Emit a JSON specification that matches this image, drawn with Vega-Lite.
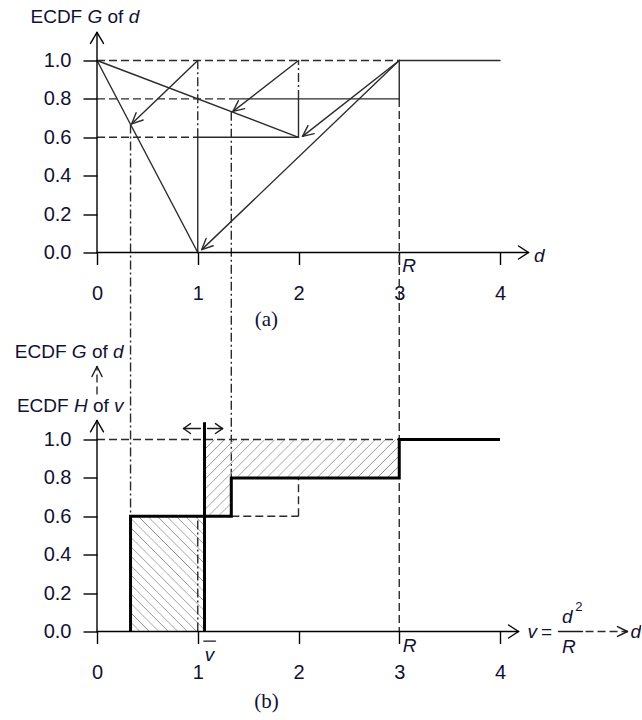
{
  "$schema": "https://vega.github.io/schema/vega-lite/v6.json",
  "background": "white",
  "padding": {"left": 14, "top": 7.5, "right": 0, "bottom": 3},
  "bounds": "flush",
  "spacing": 187,
  "config": {"view": {"stroke": null}},
  "datasets": {
    "top_solid": [
      {"x": 0, "y": 1, "x2": 1, "y2": 0},
      {"x": 0, "y": 1, "x2": 2, "y2": 0.6},
      {"x": 1, "y": 0, "x2": 1, "y2": 0.6},
      {"x": 1, "y": 0.6, "x2": 2, "y2": 0.6},
      {"x": 2, "y": 0.6, "x2": 2, "y2": 0.8},
      {"x": 1.333, "y": 0.8, "x2": 3, "y2": 0.8},
      {"x": 3, "y": 0.8, "x2": 3, "y2": 1},
      {"x": 3, "y": 1, "x2": 4, "y2": 1},
      {"x": 1, "y": 1, "x2": 0.345, "y2": 0.67},
      {"x": 2, "y": 1, "x2": 1.35, "y2": 0.735},
      {"x": 3, "y": 1, "x2": 2.04, "y2": 0.605},
      {"x": 3, "y": 1, "x2": 1.04, "y2": 0.015},
      {"x": 0.345, "y": 0.67, "x2": 0.458, "y2": 0.69},
      {"x": 0.345, "y": 0.67, "x2": 0.388, "y2": 0.728},
      {"x": 1.35, "y": 0.735, "x2": 1.466, "y2": 0.749},
      {"x": 1.35, "y": 0.735, "x2": 1.404, "y2": 0.791},
      {"x": 2.04, "y": 0.605, "x2": 2.156, "y2": 0.619},
      {"x": 2.04, "y": 0.605, "x2": 2.094, "y2": 0.661},
      {"x": 1.04, "y": 0.015, "x2": 1.153, "y2": 0.035},
      {"x": 1.04, "y": 0.015, "x2": 1.083, "y2": 0.073}
    ],
    "top_dashed": [
      {"x": 0, "y": 1, "x2": 3, "y2": 1},
      {"x": 0, "y": 0.8, "x2": 1.333, "y2": 0.8},
      {"x": 0, "y": 0.6, "x2": 1, "y2": 0.6},
      {"x": 3, "y": 0.8, "x2": 3, "y2": -1.974}
    ],
    "top_dashdot": [
      {"x": 1, "y": 0.6, "x2": 1, "y2": 1},
      {"x": 2, "y": 0.8, "x2": 2, "y2": 1},
      {"x": 0.333, "y": 0.667, "x2": 0.333, "y2": -1.375},
      {"x": 1.333, "y": 0.733, "x2": 1.333, "y2": -1.174}
    ],
    "top_axes": [
      {"x": 0, "y": 0, "x2": 4.283, "y2": 0},
      {"x": 4.283, "y": 0, "x2": 4.184, "y2": 0.034},
      {"x": 4.283, "y": 0, "x2": 4.184, "y2": -0.034},
      {"x": 0, "y": 0, "x2": 0, "y2": 1.146},
      {"x": 0, "y": 1.146, "x2": -0.0645, "y2": 1.089},
      {"x": 0, "y": 1.146, "x2": 0.0645, "y2": 1.089}
    ],
    "top_text_upright": [
      {"x": -0.4035, "y": 1.229, "t": "ECDF"},
      {"x": 0.1833, "y": 1.229, "t": "of"}
    ],
    "top_text_italic": [
      {"x": -0.0211, "y": 1.229, "t": "G"},
      {"x": 0.3667, "y": 1.229, "t": "d"},
      {"x": 3.097, "y": -0.068, "t": "R"},
      {"x": 4.3896, "y": -0.016, "t": "d"}
    ],
    "top_caption": [{"x": 1.682, "y": -0.354, "t": "(a)"}],
    "b_area_a": [{"x": 0.333, "x2": 1.067, "y": 0, "y2": 0.6}],
    "b_area_b": [
      {"x": 1.067, "y": 1, "y2": 0.6},
      {"x": 1.333, "y": 1, "y2": 0.8},
      {"x": 3, "y": 1, "y2": 0.8}
    ],
    "b_dashed": [
      {"x": 0, "y": 1, "x2": 3, "y2": 1},
      {"x": 1.333, "y": 0.6, "x2": 2, "y2": 0.6},
      {"x": 2, "y": 0.6, "x2": 2, "y2": 0.8},
      {"x": 4.849, "y": 0, "x2": 5.265, "y2": 0},
      {"x": 0, "y": 1.234, "x2": 0, "y2": 1.38}
    ],
    "b_dashdot": [{"x": 1, "y": 0, "x2": 1, "y2": 0.6}],
    "b_thin": [
      {"x": 1.027, "y": 1.057, "x2": 0.859, "y2": 1.057},
      {"x": 0.859, "y": 1.057, "x2": 0.928, "y2": 1.083},
      {"x": 0.859, "y": 1.057, "x2": 0.928, "y2": 1.031},
      {"x": 1.097, "y": 1.057, "x2": 1.246, "y2": 1.057},
      {"x": 1.246, "y": 1.057, "x2": 1.176, "y2": 1.083},
      {"x": 1.246, "y": 1.057, "x2": 1.176, "y2": 1.031},
      {"x": 4.581, "y": 0, "x2": 4.819, "y2": 0},
      {"x": 1.06, "y": -0.05, "x2": 1.176, "y2": -0.05},
      {"x": 5.265, "y": 0, "x2": 5.166, "y2": 0.026},
      {"x": 5.265, "y": 0, "x2": 5.166, "y2": -0.026},
      {"x": 0, "y": 1.38, "x2": -0.05, "y2": 1.328},
      {"x": 0, "y": 1.38, "x2": 0.05, "y2": 1.328}
    ],
    "b_axes": [
      {"x": 0, "y": 0, "x2": 4.184, "y2": 0},
      {"x": 4.184, "y": 0, "x2": 4.085, "y2": 0.034},
      {"x": 4.184, "y": 0, "x2": 4.085, "y2": -0.034},
      {"x": 0, "y": 0, "x2": 0, "y2": 1.099},
      {"x": 0, "y": 1.099, "x2": -0.0645, "y2": 1.04},
      {"x": 0, "y": 1.099, "x2": 0.0645, "y2": 1.04}
    ],
    "b_step": [
      {"i": 0, "x": 0.333, "y": 0},
      {"i": 1, "x": 0.333, "y": 0.6},
      {"i": 2, "x": 1.333, "y": 0.6},
      {"i": 3, "x": 1.333, "y": 0.8},
      {"i": 4, "x": 3, "y": 0.8},
      {"i": 5, "x": 3, "y": 1},
      {"i": 6, "x": 4, "y": 1}
    ],
    "b_vbar": [{"x": 1.067, "y": 0, "y2": 1.09}],
    "b_text_upright": [
      {"x": -0.5593, "y": 1.458, "t": "ECDF"},
      {"x": 0.0281, "y": 1.458, "t": "of"},
      {"x": -0.5385, "y": 1.172, "t": "ECDF"},
      {"x": 0.038, "y": 1.172, "t": "of"},
      {"x": 4.462, "y": -0.003, "t": "="}
    ],
    "b_text_italic": [
      {"x": -0.1768, "y": 1.458, "t": "G"},
      {"x": 0.2112, "y": 1.458, "t": "d"},
      {"x": -0.1612, "y": 1.172, "t": "H"},
      {"x": 0.2159, "y": 1.172, "t": "v"},
      {"x": 3.102, "y": -0.078, "t": "R"},
      {"x": 4.32, "y": -0.005, "t": "v"},
      {"x": 4.667, "y": 0.078, "t": "d"},
      {"x": 4.683, "y": -0.083, "t": "R"},
      {"x": 5.347, "y": -0.005, "t": "d"},
      {"x": 1.117, "y": -0.12, "t": "v"}
    ],
    "b_text_sup": [{"x": 4.782, "y": 0.128, "t": "2"}],
    "b_caption": [{"x": 1.682, "y": -0.365, "t": "(b)"}]
  },
  "vconcat": [
    {
      "width": 403,
      "height": 192,
      "encoding": {
        "x": {"field": "x", "type": "quantitative", "scale": {"domain": [0, 4], "nice": false, "zero": false},
          "axis": {"values": [0, 1, 2, 3, 4], "format": "d", "domain": false, "grid": false, "tickSize": 12, "tickWidth": 1.4, "tickColor": "#000", "labelFont": "Liberation Sans", "labelFontSize": 20, "labelColor": "#111133", "labelPadding": 19, "labelFlush": false, "labelOverlap": false, "title": null}},
        "y": {"field": "y", "type": "quantitative", "scale": {"domain": [0, 1], "nice": false, "zero": false},
          "axis": {"values": [0, 0.2, 0.4, 0.6, 0.8, 1], "format": ".1f", "domain": false, "grid": false, "tickSize": 14, "tickWidth": 1.4, "tickColor": "#000", "labelFont": "Liberation Sans", "labelFontSize": 20, "labelColor": "#111133", "labelPadding": 12, "labelFlush": false, "labelOverlap": false, "title": null}}
      },
      "layer": [
        {"data": {"name": "top_dashed"}, "mark": {"type": "rule", "color": "#2b2b2b", "strokeWidth": 1.4, "strokeDash": [8, 4], "clip": false},
          "encoding": {"x2": {"field": "x2"}, "y2": {"field": "y2"}}},
        {"data": {"name": "top_dashdot"}, "mark": {"type": "rule", "color": "#2b2b2b", "strokeWidth": 1.4, "strokeDash": [9, 3, 2, 3], "clip": false},
          "encoding": {"x2": {"field": "x2"}, "y2": {"field": "y2"}}},
        {"data": {"name": "top_solid"}, "mark": {"type": "rule", "color": "#2b2b2b", "strokeWidth": 1.4, "strokeCap": "round", "clip": false},
          "encoding": {"x2": {"field": "x2"}, "y2": {"field": "y2"}}},
        {"data": {"name": "top_axes"}, "mark": {"type": "rule", "color": "#000", "strokeWidth": 1.4, "strokeCap": "round", "clip": false},
          "encoding": {"x2": {"field": "x2"}, "y2": {"field": "y2"}}},
        {"data": {"name": "top_text_upright"}, "mark": {"type": "text", "font": "Liberation Sans", "fontSize": 19, "color": "#111133", "align": "center", "baseline": "middle", "clip": false},
          "encoding": {"text": {"field": "t"}}},
        {"data": {"name": "top_text_italic"}, "mark": {"type": "text", "font": "Liberation Sans", "fontStyle": "italic", "fontSize": 19, "color": "#111133", "align": "center", "baseline": "middle", "clip": false},
          "encoding": {"text": {"field": "t"}}},
        {"data": {"name": "top_caption"}, "mark": {"type": "text", "font": "Liberation Serif", "fontSize": 21, "color": "#111133", "align": "center", "baseline": "middle", "clip": false},
          "encoding": {"text": {"field": "t"}}}
      ]
    },
    {
      "width": 403,
      "height": 192,
      "encoding": {
        "x": {"field": "x", "type": "quantitative", "scale": {"domain": [0, 4], "nice": false, "zero": false},
          "axis": {"values": [0, 1, 2, 3, 4], "format": "d", "domain": false, "grid": false, "tickSize": 12, "tickWidth": 1.4, "tickColor": "#000", "labelFont": "Liberation Sans", "labelFontSize": 20, "labelColor": "#111133", "labelPadding": 19, "labelFlush": false, "labelOverlap": false, "title": null}},
        "y": {"field": "y", "type": "quantitative", "scale": {"domain": [0, 1], "nice": false, "zero": false},
          "axis": {"values": [0, 0.2, 0.4, 0.6, 0.8, 1], "format": ".1f", "domain": false, "grid": false, "tickSize": 14, "tickWidth": 1.4, "tickColor": "#000", "labelFont": "Liberation Sans", "labelFontSize": 20, "labelColor": "#111133", "labelPadding": 12, "labelFlush": false, "labelOverlap": false, "title": null}}
      },
      "layer": [
        {"data": {"name": "b_area_a"},
          "mark": {"type": "rect", "clip": false, "fill": {"gradient": "linear", "x1": 0, "y1": 1, "x2": 0.746, "y2": -0.163, "stops": [
            {"offset": 0, "color": "#8f8f8f"}, {"offset": 0.007, "color": "rgba(255,255,255,0)"}, {"offset": 0.043, "color": "rgba(255,255,255,0)"},
            {"offset": 0.05, "color": "#8f8f8f"}, {"offset": 0.057, "color": "rgba(255,255,255,0)"}, {"offset": 0.093, "color": "rgba(255,255,255,0)"},
            {"offset": 0.1, "color": "#8f8f8f"}, {"offset": 0.107, "color": "rgba(255,255,255,0)"}, {"offset": 0.143, "color": "rgba(255,255,255,0)"},
            {"offset": 0.15, "color": "#8f8f8f"}, {"offset": 0.157, "color": "rgba(255,255,255,0)"}, {"offset": 0.193, "color": "rgba(255,255,255,0)"},
            {"offset": 0.2, "color": "#8f8f8f"}, {"offset": 0.207, "color": "rgba(255,255,255,0)"}, {"offset": 0.243, "color": "rgba(255,255,255,0)"},
            {"offset": 0.25, "color": "#8f8f8f"}, {"offset": 0.257, "color": "rgba(255,255,255,0)"}, {"offset": 0.293, "color": "rgba(255,255,255,0)"},
            {"offset": 0.3, "color": "#8f8f8f"}, {"offset": 0.307, "color": "rgba(255,255,255,0)"}, {"offset": 0.343, "color": "rgba(255,255,255,0)"},
            {"offset": 0.35, "color": "#8f8f8f"}, {"offset": 0.357, "color": "rgba(255,255,255,0)"}, {"offset": 0.393, "color": "rgba(255,255,255,0)"},
            {"offset": 0.4, "color": "#8f8f8f"}, {"offset": 0.407, "color": "rgba(255,255,255,0)"}, {"offset": 0.443, "color": "rgba(255,255,255,0)"},
            {"offset": 0.45, "color": "#8f8f8f"}, {"offset": 0.457, "color": "rgba(255,255,255,0)"}, {"offset": 0.493, "color": "rgba(255,255,255,0)"},
            {"offset": 0.5, "color": "#8f8f8f"}, {"offset": 0.507, "color": "rgba(255,255,255,0)"}, {"offset": 0.543, "color": "rgba(255,255,255,0)"},
            {"offset": 0.55, "color": "#8f8f8f"}, {"offset": 0.557, "color": "rgba(255,255,255,0)"}, {"offset": 0.593, "color": "rgba(255,255,255,0)"},
            {"offset": 0.6, "color": "#8f8f8f"}, {"offset": 0.607, "color": "rgba(255,255,255,0)"}, {"offset": 0.643, "color": "rgba(255,255,255,0)"},
            {"offset": 0.65, "color": "#8f8f8f"}, {"offset": 0.657, "color": "rgba(255,255,255,0)"}, {"offset": 0.693, "color": "rgba(255,255,255,0)"},
            {"offset": 0.7, "color": "#8f8f8f"}, {"offset": 0.707, "color": "rgba(255,255,255,0)"}, {"offset": 0.743, "color": "rgba(255,255,255,0)"},
            {"offset": 0.75, "color": "#8f8f8f"}, {"offset": 0.757, "color": "rgba(255,255,255,0)"}, {"offset": 0.793, "color": "rgba(255,255,255,0)"},
            {"offset": 0.8, "color": "#8f8f8f"}, {"offset": 0.807, "color": "rgba(255,255,255,0)"}, {"offset": 0.843, "color": "rgba(255,255,255,0)"},
            {"offset": 0.85, "color": "#8f8f8f"}, {"offset": 0.857, "color": "rgba(255,255,255,0)"}, {"offset": 0.893, "color": "rgba(255,255,255,0)"},
            {"offset": 0.9, "color": "#8f8f8f"}, {"offset": 0.907, "color": "rgba(255,255,255,0)"}, {"offset": 0.943, "color": "rgba(255,255,255,0)"},
            {"offset": 0.95, "color": "#8f8f8f"}, {"offset": 0.957, "color": "rgba(255,255,255,0)"}, {"offset": 0.993, "color": "rgba(255,255,255,0)"},
            {"offset": 1, "color": "#8f8f8f"}]}},
          "encoding": {"x2": {"field": "x2"}, "y2": {"field": "y2"}}},
        {"data": {"name": "b_area_b"},
          "mark": {"type": "area", "interpolate": "step-after", "clip": false, "fill": {"gradient": "linear", "x1": 0, "y1": 0, "x2": 1.2067, "y2": 0.4757, "stops": [
            {"offset": 0, "color": "#8f8f8f"}, {"offset": 0.005, "color": "rgba(255,255,255,0)"}, {"offset": 0.032, "color": "rgba(255,255,255,0)"},
            {"offset": 0.037, "color": "#8f8f8f"}, {"offset": 0.042, "color": "rgba(255,255,255,0)"}, {"offset": 0.069, "color": "rgba(255,255,255,0)"},
            {"offset": 0.074, "color": "#8f8f8f"}, {"offset": 0.079, "color": "rgba(255,255,255,0)"}, {"offset": 0.106, "color": "rgba(255,255,255,0)"},
            {"offset": 0.111, "color": "#8f8f8f"}, {"offset": 0.116, "color": "rgba(255,255,255,0)"}, {"offset": 0.143, "color": "rgba(255,255,255,0)"},
            {"offset": 0.148, "color": "#8f8f8f"}, {"offset": 0.153, "color": "rgba(255,255,255,0)"}, {"offset": 0.18, "color": "rgba(255,255,255,0)"},
            {"offset": 0.185, "color": "#8f8f8f"}, {"offset": 0.19, "color": "rgba(255,255,255,0)"}, {"offset": 0.217, "color": "rgba(255,255,255,0)"},
            {"offset": 0.222, "color": "#8f8f8f"}, {"offset": 0.227, "color": "rgba(255,255,255,0)"}, {"offset": 0.254, "color": "rgba(255,255,255,0)"},
            {"offset": 0.259, "color": "#8f8f8f"}, {"offset": 0.264, "color": "rgba(255,255,255,0)"}, {"offset": 0.291, "color": "rgba(255,255,255,0)"},
            {"offset": 0.296, "color": "#8f8f8f"}, {"offset": 0.301, "color": "rgba(255,255,255,0)"}, {"offset": 0.328, "color": "rgba(255,255,255,0)"},
            {"offset": 0.333, "color": "#8f8f8f"}, {"offset": 0.338, "color": "rgba(255,255,255,0)"}, {"offset": 0.365, "color": "rgba(255,255,255,0)"},
            {"offset": 0.37, "color": "#8f8f8f"}, {"offset": 0.375, "color": "rgba(255,255,255,0)"}, {"offset": 0.402, "color": "rgba(255,255,255,0)"},
            {"offset": 0.407, "color": "#8f8f8f"}, {"offset": 0.412, "color": "rgba(255,255,255,0)"}, {"offset": 0.439, "color": "rgba(255,255,255,0)"},
            {"offset": 0.444, "color": "#8f8f8f"}, {"offset": 0.449, "color": "rgba(255,255,255,0)"}, {"offset": 0.476, "color": "rgba(255,255,255,0)"},
            {"offset": 0.481, "color": "#8f8f8f"}, {"offset": 0.486, "color": "rgba(255,255,255,0)"}, {"offset": 0.513, "color": "rgba(255,255,255,0)"},
            {"offset": 0.518, "color": "#8f8f8f"}, {"offset": 0.523, "color": "rgba(255,255,255,0)"}, {"offset": 0.55, "color": "rgba(255,255,255,0)"},
            {"offset": 0.555, "color": "#8f8f8f"}, {"offset": 0.56, "color": "rgba(255,255,255,0)"}, {"offset": 0.587, "color": "rgba(255,255,255,0)"},
            {"offset": 0.592, "color": "#8f8f8f"}, {"offset": 0.597, "color": "rgba(255,255,255,0)"}, {"offset": 0.624, "color": "rgba(255,255,255,0)"},
            {"offset": 0.629, "color": "#8f8f8f"}, {"offset": 0.634, "color": "rgba(255,255,255,0)"}, {"offset": 0.661, "color": "rgba(255,255,255,0)"},
            {"offset": 0.666, "color": "#8f8f8f"}, {"offset": 0.671, "color": "rgba(255,255,255,0)"}, {"offset": 0.698, "color": "rgba(255,255,255,0)"},
            {"offset": 0.703, "color": "#8f8f8f"}, {"offset": 0.708, "color": "rgba(255,255,255,0)"}, {"offset": 0.735, "color": "rgba(255,255,255,0)"},
            {"offset": 0.74, "color": "#8f8f8f"}, {"offset": 0.745, "color": "rgba(255,255,255,0)"}, {"offset": 0.772, "color": "rgba(255,255,255,0)"},
            {"offset": 0.777, "color": "#8f8f8f"}, {"offset": 0.782, "color": "rgba(255,255,255,0)"}, {"offset": 0.809, "color": "rgba(255,255,255,0)"},
            {"offset": 0.814, "color": "#8f8f8f"}, {"offset": 0.819, "color": "rgba(255,255,255,0)"}, {"offset": 0.846, "color": "rgba(255,255,255,0)"},
            {"offset": 0.851, "color": "#8f8f8f"}, {"offset": 0.856, "color": "rgba(255,255,255,0)"}, {"offset": 0.883, "color": "rgba(255,255,255,0)"},
            {"offset": 0.888, "color": "#8f8f8f"}, {"offset": 0.893, "color": "rgba(255,255,255,0)"}, {"offset": 0.92, "color": "rgba(255,255,255,0)"},
            {"offset": 0.925, "color": "#8f8f8f"}, {"offset": 0.93, "color": "rgba(255,255,255,0)"}, {"offset": 0.957, "color": "rgba(255,255,255,0)"},
            {"offset": 0.962, "color": "#8f8f8f"}, {"offset": 0.967, "color": "rgba(255,255,255,0)"}, {"offset": 0.994, "color": "rgba(255,255,255,0)"},
            {"offset": 0.999, "color": "#8f8f8f"}]}},
          "encoding": {"y2": {"field": "y2"}}},
        {"data": {"name": "b_dashed"}, "mark": {"type": "rule", "color": "#2b2b2b", "strokeWidth": 1.4, "strokeDash": [8, 4], "clip": false},
          "encoding": {"x2": {"field": "x2"}, "y2": {"field": "y2"}}},
        {"data": {"name": "b_dashdot"}, "mark": {"type": "rule", "color": "#2b2b2b", "strokeWidth": 1.4, "strokeDash": [9, 3, 2, 3], "clip": false},
          "encoding": {"x2": {"field": "x2"}, "y2": {"field": "y2"}}},
        {"data": {"name": "b_thin"}, "mark": {"type": "rule", "color": "#1a1a1a", "strokeWidth": 1.4, "strokeCap": "round", "clip": false},
          "encoding": {"x2": {"field": "x2"}, "y2": {"field": "y2"}}},
        {"data": {"name": "b_axes"}, "mark": {"type": "rule", "color": "#000", "strokeWidth": 1.4, "strokeCap": "round", "clip": false},
          "encoding": {"x2": {"field": "x2"}, "y2": {"field": "y2"}}},
        {"data": {"name": "b_step"}, "mark": {"type": "line", "color": "#000", "strokeWidth": 3, "strokeJoin": "miter", "clip": false},
          "encoding": {"order": {"field": "i", "type": "quantitative"}}},
        {"data": {"name": "b_vbar"}, "mark": {"type": "rule", "color": "#000", "strokeWidth": 3, "clip": false},
          "encoding": {"y2": {"field": "y2"}}},
        {"data": {"name": "b_text_upright"}, "mark": {"type": "text", "font": "Liberation Sans", "fontSize": 19, "color": "#111133", "align": "center", "baseline": "middle", "clip": false},
          "encoding": {"text": {"field": "t"}}},
        {"data": {"name": "b_text_italic"}, "mark": {"type": "text", "font": "Liberation Sans", "fontStyle": "italic", "fontSize": 19, "color": "#111133", "align": "center", "baseline": "middle", "clip": false},
          "encoding": {"text": {"field": "t"}}},
        {"data": {"name": "b_text_sup"}, "mark": {"type": "text", "font": "Liberation Sans", "fontSize": 13, "color": "#111133", "align": "center", "baseline": "middle", "clip": false},
          "encoding": {"text": {"field": "t"}}},
        {"data": {"name": "b_caption"}, "mark": {"type": "text", "font": "Liberation Serif", "fontSize": 21, "color": "#111133", "align": "center", "baseline": "middle", "clip": false},
          "encoding": {"text": {"field": "t"}}}
      ]
    }
  ]
}
